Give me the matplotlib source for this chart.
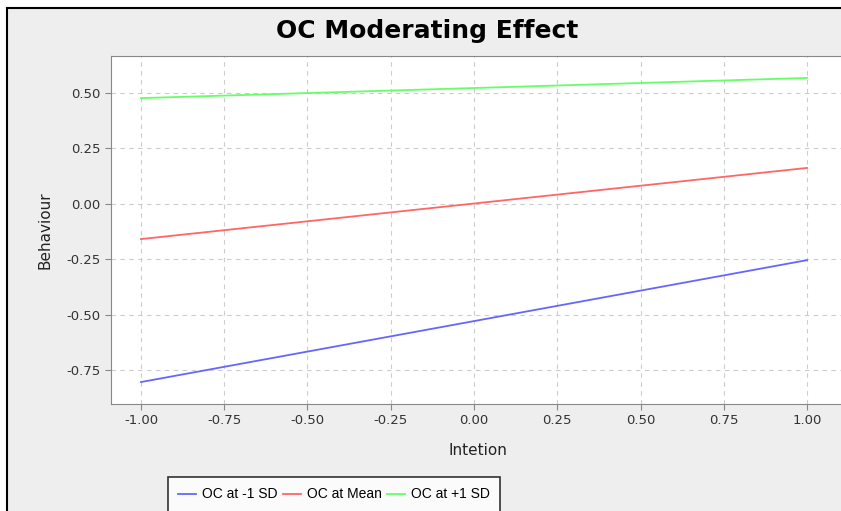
import numpy as np
import matplotlib.pyplot as plt
from matplotlib.patches import Rectangle

intention = [-1.0, 1.0]
oc_minus_sd = [-0.804, -0.254]
oc_mean = [-0.159, 0.162]
oc_plus_sd = [0.477, 0.568]
labels = ["OC at -1 SD", "OC at Mean", "OC at +1 SD"]
colors = ["#6666ff", "#ff6666", "#66ff66"]

W, H = 841, 511
fig = plt.figure(figsize=(W / 100, H / 100), dpi=100)
fig.patch.set_facecolor("white")

# outer chart frame (grey background with black border)
frame = Rectangle((7 / W, -0.1), 1.2, 1.1 - 8 / H, transform=fig.transFigure,
                  facecolor="#eeeeee", edgecolor="black", linewidth=1.5, zorder=-10)
fig.patches.append(frame)

left, top, bottom = 111, 56, 404
ax = fig.add_axes([left / W, 1 - bottom / H, (845 - left) / W, (bottom - top) / H])
ax.set_facecolor("white")

for y, lab, c in zip([oc_minus_sd, oc_mean, oc_plus_sd], labels, colors):
    ax.plot(intention, y, color=c, linewidth=1.3, label=lab)

xt = np.arange(-1.0, 1.01, 0.25)
yt = [-0.75, -0.5, -0.25, 0.0, 0.25, 0.5]
ax.set_xticks(xt)
ax.set_xticklabels(["%.2f" % v for v in xt])
ax.set_yticks(yt)
ax.set_yticklabels(["%.2f" % v for v in yt])
ax.set_xlim(-1.09, 1.114)
ax.set_ylim(-0.903, 0.667)
ax.grid(True, color="#cccccc", linestyle=(0, (4, 4)), linewidth=0.8)
ax.set_axisbelow(True)
for s in ax.spines.values():
    s.set_color("#888888")
ax.spines["right"].set_visible(False)
ax.tick_params(colors="#888888", labelcolor="#333333", labelsize=9.5, length=4)

ax.set_xlabel("Intetion", fontsize=11, color="#222222", labelpad=11)
ax.set_ylabel("Behaviour", fontsize=11, color="#222222", labelpad=10)
fig.text(427 / W, 1 - 31 / H, "OC Moderating Effect", fontsize=18, fontweight="bold",
         ha="center", va="center")

leg = fig.legend(loc="upper center", bbox_to_anchor=(334 / W, 1 - 477 / H), ncol=3,
                 prop={"family": ["Liberation Sans", "DejaVu Sans"], "size": 10},
                 frameon=True, fancybox=False, handlelength=1.3,
                 handletextpad=0.4, columnspacing=0.4, borderpad=0.75, borderaxespad=0,
                 edgecolor="black")
leg.get_frame().set_linewidth(1.2)
leg.get_frame().set_facecolor("white")

fig.savefig("out.png", dpi=100)
